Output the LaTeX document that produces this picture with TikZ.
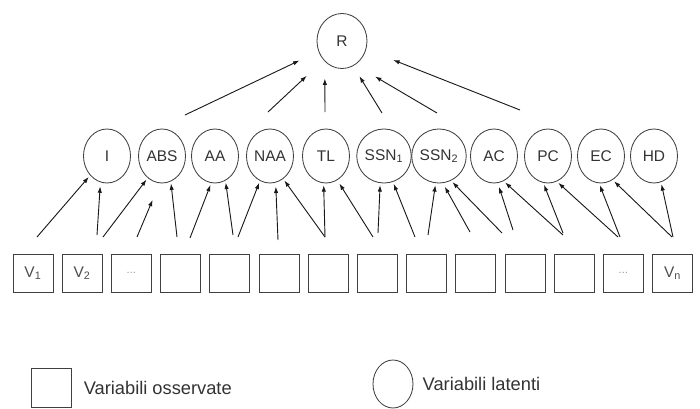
\documentclass[tikz,border=0pt]{standalone}
\usepackage{fontspec}
\setmainfont{Liberation Sans}
\usepackage{tikz}
\usetikzlibrary{positioning, arrows.meta, shapes.geometric, calc}
\newcommand{\obsdots}{\textcolor{black!40}{\footnotesize...}}
\tikzset{
    latent/.style={
        ellipse, draw=black!75, line width=0.6pt,
        minimum width=1.175cm, minimum height=1.35cm,
        inner sep=0pt, text=black!80,
        font=\fontsize{11}{13}\selectfont
    },
    observed/.style={
        rectangle, draw=black!75, line width=0.7pt,
        minimum width=1cm, minimum height=0.95cm,
        inner sep=0pt, text=black!70,
        font=\fontsize{11}{13}\selectfont
    },
    arr/.style={
        -{Latex[length=1.6mm, width=1.1mm]}, line width=0.65pt, draw=black!90
    },
    legend/.style={
        font=\fontsize{13}{15}\selectfont, text=black!80, inner sep=0pt
    }
}

\begin{document}
\begin{tikzpicture}[x=0.025cm, y=-0.025cm]
\useasboundingbox (0,0) rectangle (700,409);

\node[latent, minimum width=1.25cm, minimum height=1.375cm] (R) at (342,41) {R};

% latent variables
\foreach \n/\lab/\x in {I/I/107, ABS/ABS/162, AA/AA/215, NAA/NAA/270, TL/TL/326,
    SSN1/SSN\textsubscript{1}/384, SSN2/SSN\textsubscript{2}/439, AC/AC/494,
    PC/PC/548, EC/EC/601, HD/HD/654}
    \node[latent] (\n) at (\x,156) {\lab};

% observed variables
\foreach \lab [count=\i from 0] in {V\textsubscript{1}, V\textsubscript{2}, \obsdots,
    {}, {}, {}, {}, {}, {}, {}, {}, {}, \obsdots, V\textsubscript{n}}
    \node[observed] (v\i) at (33+\i*49.2,273) {\lab};

% latent -> R
\foreach \x/\y/\a/\s [count=\i] in {185/115/204/21, 268/112/226/23, 325/112/230/17,
    382/113/294/12, 437/113/299/23, 520/110/341/29}{
    \coordinate (r\i) at (\x,\y);
    \draw[arr, shorten >=\s*0.025cm] (r\i) -- (R.\a);
}

% observed -> latent
\foreach \x/\y/\n/\a/\s [count=\i] in {37/237/I/229/2, 97/235/I/256/4,
    103/237/ABS/237/2, 137/237/ABS/265/18, 177/237/ABS/289/2,
    190/238/AA/262/2, 233/235/AA/293/2,
    238/237/NAA/248/2, 278/240/NAA/282/4, 325/237/NAA/300/2,
    325/237/TL/265/2, 373/237/TL/295/4,
    378/233/SSN1/262/2, 415/237/SSN1/289/2,
    428/235/SSN2/263/2, 470/232/SSN2/278/4, 502/233/SSN2/296/2,
    513/230/AC/278/4, 563/235/AC/291/2,
    563/233/PC/260/2, 618/237/PC/289/2,
    620/237/EC/266/2, 672/237/EC/296/2,
    673/237/HD/285/2}{
    \coordinate (t\i) at (\x,\y);
    \draw[arr, shorten >=\s*0.025cm] (t\i) -- (\n.\a);
}

% legend
\node[observed, minimum height=0.975cm] (lobs) at (51,387.5) {};
\node[legend, right=0.3cm of lobs] (lobstext) {Variabili osservate};
\node[latent, minimum width=1cm, minimum height=1.2cm] (llat) at (393,384) {};
\node[legend, right=0.225cm of llat] (llattext) {Variabili latenti};

\end{tikzpicture}
\end{document}
